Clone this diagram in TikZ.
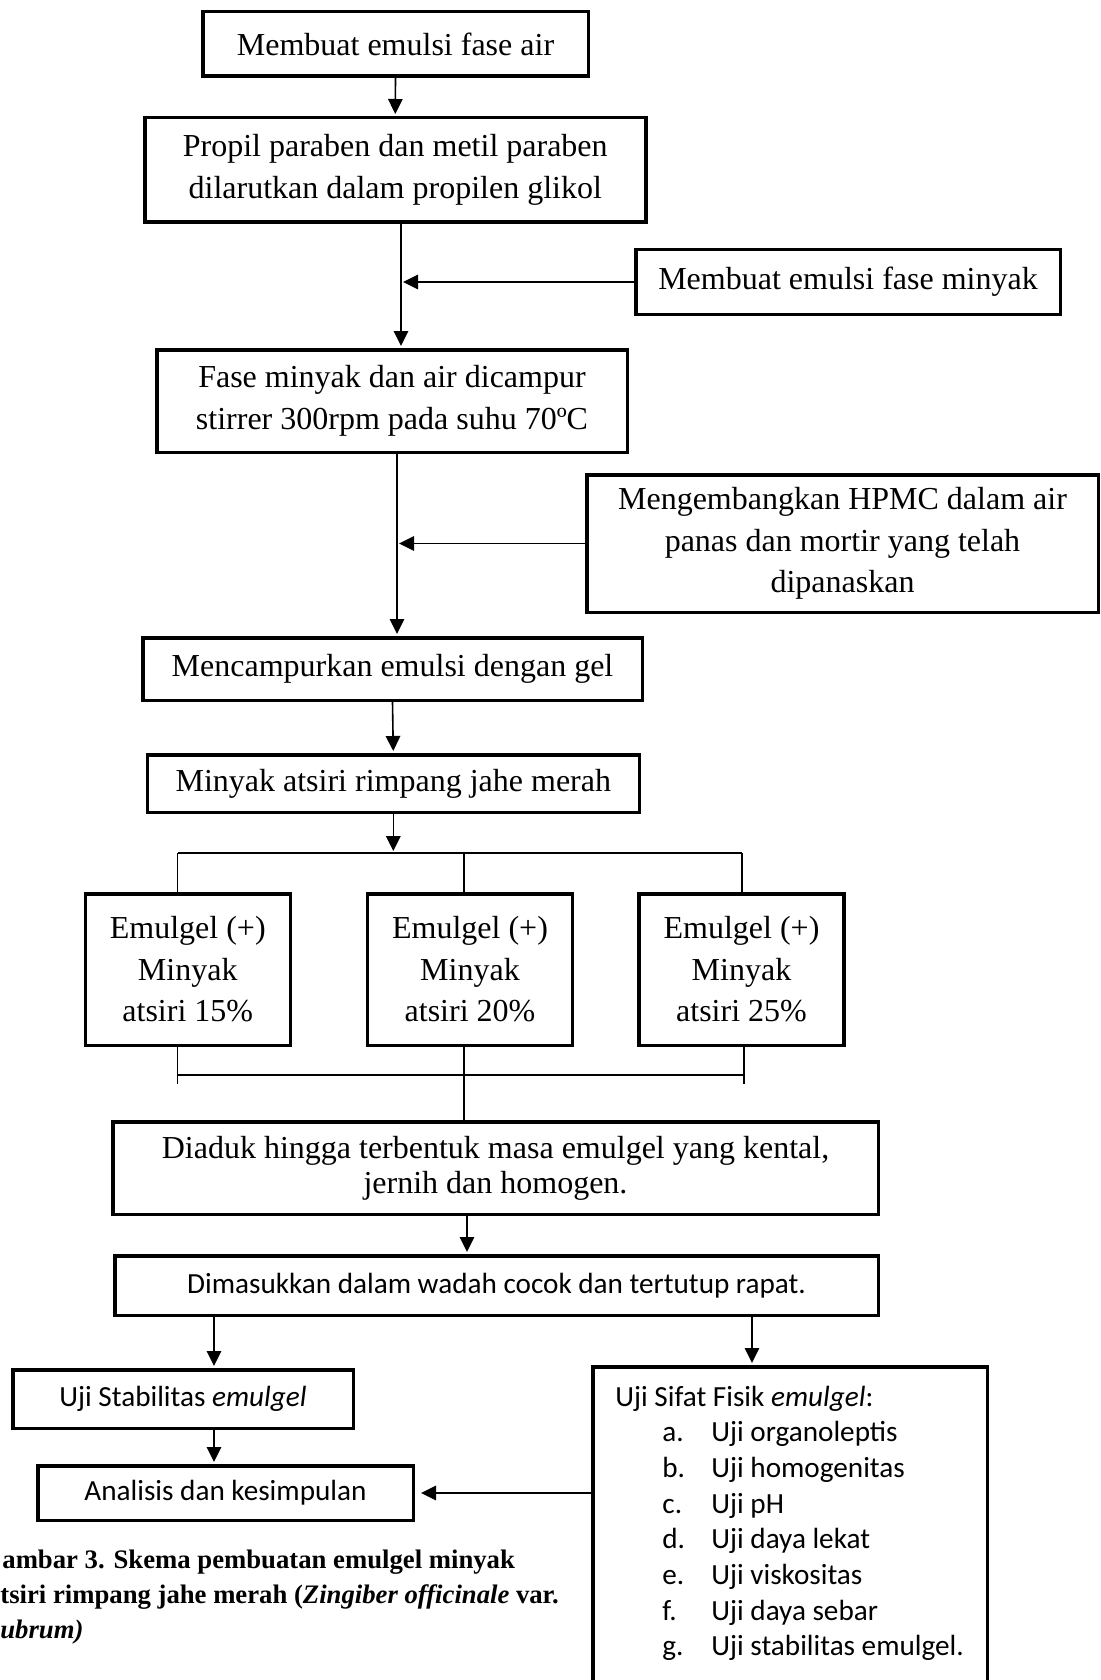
\documentclass[tikz,border=0pt]{standalone}
\usepackage{fontspec}
\setmainfont{Liberation Serif}
\setsansfont{Carlito}
\usetikzlibrary{arrows.meta}
\tikzset{
  box/.style={draw, line width=1.75pt, inner sep=0pt, align=center,
    font=\fontsize{16}{20.75}\selectfont},
  sbox/.style={box, font=\sffamily\fontsize{14.6}{17.85}\selectfont},
  arr/.style={-{Triangle[length=7.5pt,width=7.25pt]}, line width=0.8pt, shorten >=1pt},
  twig/.style={line width=0.6pt},
  lst/.style={anchor=base west, inner sep=0pt, font=\sffamily\fontsize{14.6}{17.85}\selectfont},
  captxt/.style={anchor=base west, inner sep=0pt, font=\bfseries\fontsize{13.35}{17}\selectfont}
}
\begin{document}
\begin{tikzpicture}[x=0.5pt,y=-0.5pt]
\useasboundingbox (0,0) rectangle (1100,1680); % page in pixels

% main column
\node[box, minimum width=192.75pt, minimum height=32.25pt] (b1) at (395.5,44) {Membuat emulsi fase air};
\node[box, minimum width=250.5pt, minimum height=52.25pt] (b2) at (395.25,170) {Propil paraben dan metil paraben\\dilarutkan dalam propilen glikol};
\node[box, minimum width=212.25pt, minimum height=32.25pt] (bm) at (848,282) {Membuat emulsi fase minyak};
\node[box, minimum width=235.25pt, minimum height=51.25pt] (b3) at (392,401) {Fase minyak dan air dicampur\\stirrer 300rpm pada suhu 70ºC};
\node[box, minimum width=255.75pt, minimum height=68.75pt] (bh) at (842.5,543.5) {Mengembangkan HPMC dalam air\\panas dan mortir yang telah\\dipanaskan};
\node[box, minimum width=249.75pt, minimum height=31.25pt] (b4) at (392.5,669) {Mencampurkan emulsi dengan gel};
\node[box, minimum width=246pt, minimum height=28.75pt] (b5) at (393.3,783.5) {Minyak atsiri rimpang jahe merah};

% three concentrations
\foreach \n/\x/\p in {eA/187.75/15, eB/470/20, eC/741.5/25}
\node[box, minimum width=102.5pt, minimum height=75.75pt] (\n) at (\x,969.5) {Emulgel (+)\\Minyak\\atsiri \p\%};

\node[box, minimum width=382.75pt, minimum height=46.25pt, font=\fontsize{16}{17.5}\selectfont] (b6) at (495.5,1168) {Diaduk hingga terbentuk masa emulgel yang kental,\\jernih dan homogen.};
\node[sbox, minimum width=381.75pt, minimum height=29.75pt] (b7) at (496.5,1285.5) {Dimasukkan dalam wadah cocok dan tertutup rapat.};
\node[sbox, minimum width=170.25pt, minimum height=29.25pt] (b8) at (183,1399) {Uji Stabilitas \textit{emulgel}};
\node[sbox, minimum width=187.75pt, minimum height=27.25pt] (b9) at (225.5,1493) {Analisis dan kesimpulan};
\node[box, minimum width=197.25pt, minimum height=165.75pt] (b10) at (790,1532.5) {};

% list in the last box
\node[lst] (b10h) at (615,1406) {Uji Sifat Fisik \textit{emulgel}:};
\foreach \l/\t [count=\i] in {a./Uji organoleptis, b./Uji homogenitas, c./Uji pH,
  d./Uji daya lekat, e./Uji viskositas, f./Uji daya sebar, g./Uji stabilitas emulgel.}
{
\node[lst] (la\i) at (662,1406+35.7*\i) {\l};
\node[lst] (li\i) at (711,1406+35.7*\i) {\t};
}

% caption (cut at the left edge)
\node[captxt] (cap1) at (2,1568) {ambar 3. Skema pembuatan emulgel minyak};
\node[captxt] (cap2) at (0,1603) {tsiri rimpang jahe merah (\textit{Zingiber officinale} var.};
\node[captxt] (cap3) at (0,1638) {\textit{ubrum)}};

% joints
\coordinate (j1) at (401,282);
\coordinate (j2) at (397,545);
\coordinate (tl) at (177.5,853);
\coordinate (tm) at (464,853);
\coordinate (tr) at (742,853);
\coordinate (bl) at (177.5,1075);
\coordinate (br) at (744,1075);
\coordinate (k1) at (467,0);
\coordinate (k2) at (214,0);
\coordinate (k3) at (752,0);

% arrows
\draw[arr] (b1.south) -- (b2.north);
\draw[arr] (b2.south -| j1) -- (b3.north -| j1);
\draw[arr] (bm.west) -- (bm.west -| j1);
\draw[arr] (b3.south -| j2) -- (b4.north -| j2);
\draw[arr] (bh.west) -- (bh.west -| j2);
\draw[arr] (b4.south) -- (b5.north);
\draw[arr] (b5.south) -- (b5.south |- tl);

% branches
\draw[twig] (tl) -- (tr);
\draw[twig] (tl) -- (tl |- eA.north);
\draw[twig] (tm) -- (tm |- eB.north);
\draw[twig] (tr) -- (tr |- eC.north);
\draw[twig] (bl) -- (br);
\draw[twig] (bl |- eA.south) -- ++(0,37);
\draw[twig] (br |- eC.south) -- ++(0,37);
\draw[twig] (tm |- eB.south) -- (tm |- b6.north);

\draw[arr] (b6.south -| k1) -- (b7.north -| k1);
\draw[arr] (b7.south -| k2) -- (b8.north -| k2);
\draw[arr] (b8.south -| k2) -- (b9.north -| k2);
\draw[arr] (b7.south -| k3) -- (b10.north -| k3);
\draw[arr, shorten >=3pt] (b9.east -| b10.west) -- (b9.east);
\end{tikzpicture}
\end{document}
